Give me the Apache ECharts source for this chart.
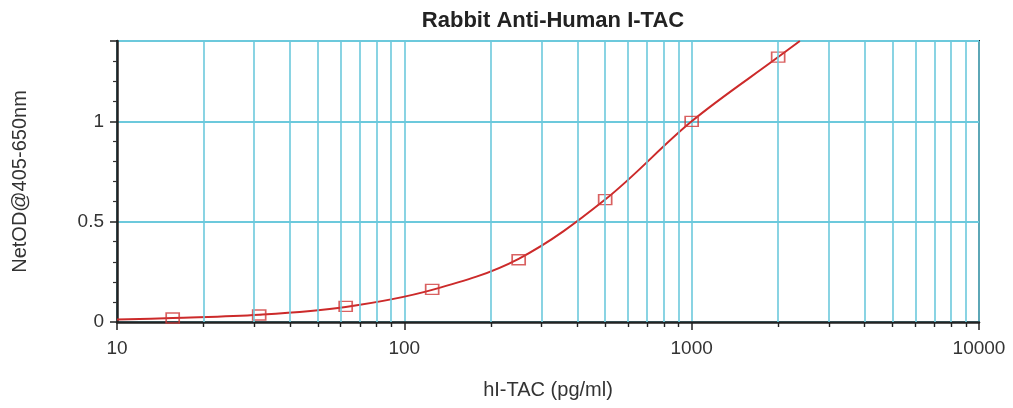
<!DOCTYPE html>
<html>
<head>
<meta charset="utf-8">
<script src="https://cdn.jsdelivr.net/npm/echarts@6/dist/echarts.min.js"></script>
<style>html,body{margin:0;padding:0;background:#fff}#c{width:1013px;height:408px}</style>
</head>
<body>
<div id="c"></div>
<script>
// Measured standards
const concentrations = [15.625, 31.25, 62.5, 125, 250, 500, 1000, 2000];
const odValues = [0.02, 0.035, 0.078, 0.163, 0.31, 0.61, 1.0, 1.32];
// Fitted curve
const curveX = [10, 15.625, 31.25, 62.5, 125, 250, 500, 1000, 2000, 2380];
const curveY = [0.012, 0.02, 0.036, 0.075, 0.16, 0.315, 0.61, 1.0, 1.32, 1.40];
// Minor log gridline positions
const minorGridX = [20, 30, 40, 50, 60, 70, 80, 90,
  200, 300, 400, 500, 600, 700, 800, 900,
  2000, 3000, 4000, 5000, 6000, 7000, 8000, 9000];
const xTickLabels = [10, 100, 1000, 10000];
const yTickLabels = [0, 0.5, 1];

const FONT = 'Liberation Sans, Arial, sans-serif';
const gridColor = '#6cc9dc';

const chart = echarts.init(document.getElementById('c'));
const gridLines = minorGridX.map(v => ({ xAxis: v }));

chart.setOption({
  animation: false,
  title: {
    text: 'Rabbit Anti-Human I-TAC',
    left: 548, top: 5, textAlign: 'center',
    textStyle: { fontFamily: FONT, fontSize: 22, fontWeight: 'bold', color: '#222' }
  },
  grid: [
    { left: 117, right: 34, top: 41, bottom: 86, show: true, borderColor: '#222', borderWidth: 2, backgroundColor: 'transparent' },
    { left: 117, right: 34, top: 323, height: 4, show: false }
  ],
  xAxis: [{
    type: 'log', logBase: 10, min: 10, max: 10000,
    name: 'hI-TAC (pg/ml)', nameLocation: 'middle', nameGap: 58,
    nameTextStyle: { fontFamily: FONT, fontSize: 20, color: '#333' },
    axisLine: { show: true, lineStyle: { color: '#222', width: 2.5 } },
    axisTick: { show: true, length: 8, lineStyle: { color: '#222', width: 1.5 } },
    axisLabel: { fontFamily: FONT, fontSize: 19, color: '#333', margin: 17,
      formatter: v => xTickLabels.includes(Math.round(v)) ? String(Math.round(v)) : '' },
    splitLine: { show: true, lineStyle: { color: gridColor, width: 1.6 } },
    minorTick: { show: false }
  }, {
    gridIndex: 1, type: 'log', logBase: 10, min: 10, max: 10000, show: false
  }],
  yAxis: [{
    type: 'value', min: 0, max: 1.4, interval: 0.5,
    name: 'NetOD@405-650nm', nameLocation: 'middle', nameGap: 87,
    nameTextStyle: { fontFamily: FONT, fontSize: 20, color: '#333' },
    axisLine: { show: true, lineStyle: { color: '#222', width: 2.5 } },
    axisTick: { show: true, length: 7, lineStyle: { color: '#222', width: 1.5 } },
    minorTick: { show: true, splitNumber: 5, length: 4, lineStyle: { color: '#333', width: 1.2 } },
    axisLabel: { fontFamily: FONT, fontSize: 19, color: '#333', margin: 13, showMaxLabel: false,
      formatter: v => yTickLabels.includes(v) ? String(v) : '' },
    splitLine: { show: true, lineStyle: { color: gridColor, width: 2 } }
  }, {
    gridIndex: 1, type: 'value', min: 0, max: 1, show: false
  }],
  series: [
    {
      type: 'line', data: [], silent: true,
      markLine: {
        silent: true, symbol: ['none', 'none'], label: { show: false },
        lineStyle: { color: gridColor, width: 1.6, type: 'solid', opacity: 1 },
        data: gridLines
      }
    },
    {
      type: 'line', data: [], silent: true, xAxisIndex: 1, yAxisIndex: 1,
      markLine: {
        silent: true, symbol: ['none', 'none'], label: { show: false },
        lineStyle: { color: '#222', width: 1.4, type: 'solid', opacity: 1 },
        data: gridLines
      }
    },
    {
      type: 'line', smooth: 0.35, showSymbol: false, clip: true,
      data: curveX.map((x, i) => [x, curveY[i]]),
      lineStyle: { color: '#cc2a2a', width: 2 }, z: 3
    },
    {
      type: 'scatter', symbol: 'rect', symbolSize: [13, 10],
      data: concentrations.map((x, i) => [x, odValues[i]]),
      itemStyle: { color: 'rgba(255,255,255,0)', borderColor: '#d03a3a', borderWidth: 1.5 }, z: 4
    }
  ]
});
</script>
</body>
</html>
